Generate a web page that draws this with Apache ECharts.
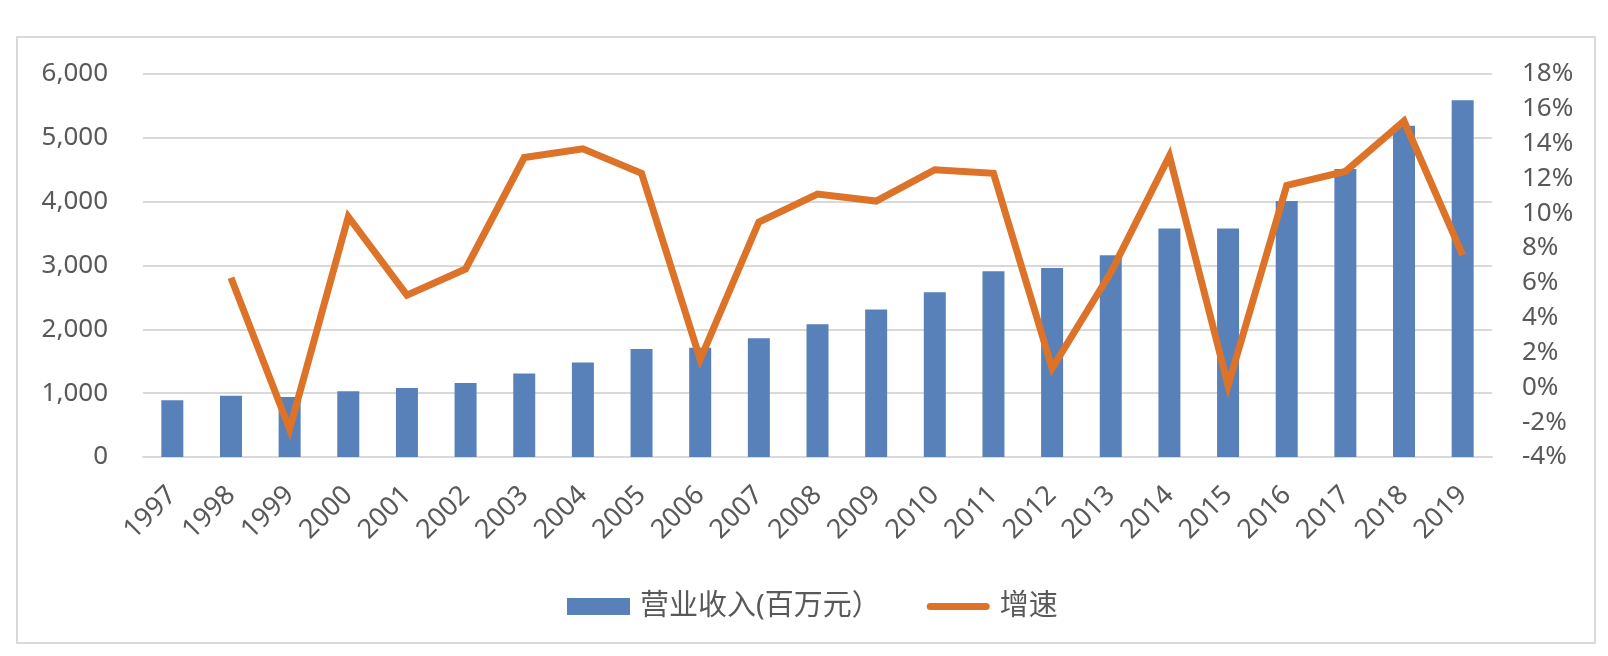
<!DOCTYPE html>
<html>
<head>
    <meta charset="utf-8">
    <title>营业收入及增速</title>
    <script src="https://cdn.jsdelivr.net/npm/echarts@6/dist/echarts.min.js"></script>
    <style>
        html, body {
            margin: 0;
            padding: 0;
            background: #fff;
        }
        #chart {
            width: 1608px;
            height: 656px;
        }
    </style>
</head>
<body>
    <div id="chart"></div>

    <script>
        // 数据
        const years = ['1997', '1998', '1999', '2000', '2001', '2002', '2003', '2004', '2005', '2006',
            '2007', '2008', '2009', '2010', '2011', '2012', '2013', '2014', '2015', '2016',
            '2017', '2018', '2019'];
        const revenue = [890, 960, 940, 1030, 1080, 1160, 1310, 1480, 1690, 1710,
            1860, 2080, 2310, 2580, 2910, 2960, 3160, 3580, 3580, 4010,
            4510, 5190, 5590];
        const growth = [null, 6.3, -2.4, 9.8, 5.3, 6.8, 13.2, 13.7, 12.3, 1.6,
            9.5, 11.1, 10.7, 12.5, 12.3, 1.1, 6.6, 13.3, 0.1, 11.6,
            12.4, 15.3, 7.6];

        const font = '"Noto Sans", "Noto Sans CJK SC", sans-serif';
        const gray = '#595959';

        const chart = echarts.init(document.getElementById('chart'));
        chart.setOption({
            backgroundColor: '#fff',
            animation: false,
            textStyle: { fontFamily: font },
            graphic: [{
                type: 'rect',
                shape: { x: 17, y: 37, width: 1578, height: 606 },
                style: { fill: 'none', stroke: '#d9d9d9', lineWidth: 2 },
                silent: true
            }],
            grid: { left: 143, right: 116, top: 74, bottom: 199 },
            legend: {
                left: 562,
                top: 587,
                itemWidth: 63,
                itemHeight: 17,
                itemGap: 46,
                textStyle: { fontSize: 29, color: gray, fontFamily: font, padding: [0, 0, 0, 5] },
                data: [
                    { name: '营业收入(百万元）', icon: 'rect' },
                    { name: '增速', icon: 'path://M3.5,0 L59.5,0 A3.5,3.5 0 0 1 59.5,7 L3.5,7 A3.5,3.5 0 0 1 3.5,0 Z' }
                ]
            },
            xAxis: {
                type: 'category',
                data: years,
                axisLine: { lineStyle: { color: '#d9d9d9', width: 2 } },
                axisTick: { show: false },
                axisLabel: {
                    rotate: 45,
                    interval: 0,
                    margin: 34,
                    fontSize: 27,
                    color: gray
                }
            },
            yAxis: [{
                type: 'value',
                min: 0,
                max: 6000,
                interval: 1000,
                axisLine: { show: false },
                axisTick: { show: false },
                splitLine: { lineStyle: { color: '#d9d9d9', width: 2 } },
                axisLabel: {
                    margin: 35,
                    fontSize: 26,
                    color: gray,
                    formatter: v => v.toLocaleString('en-US')
                }
            }, {
                type: 'value',
                min: -4,
                max: 18,
                interval: 2,
                axisLine: { show: false },
                axisTick: { show: false },
                splitLine: { show: false },
                axisLabel: {
                    margin: 30,
                    fontSize: 26,
                    color: gray,
                    formatter: '{value}%'
                }
            }],
            series: [{
                name: '营业收入(百万元）',
                type: 'bar',
                data: revenue,
                barWidth: 22,
                itemStyle: { color: '#5981b9' }
            }, {
                name: '增速',
                type: 'line',
                yAxisIndex: 1,
                data: growth,
                symbol: 'none',
                lineStyle: { color: '#dc7328', width: 7, join: 'miter' },
                itemStyle: { color: '#dc7328' }
            }]
        });
    </script>
</body>
</html>
